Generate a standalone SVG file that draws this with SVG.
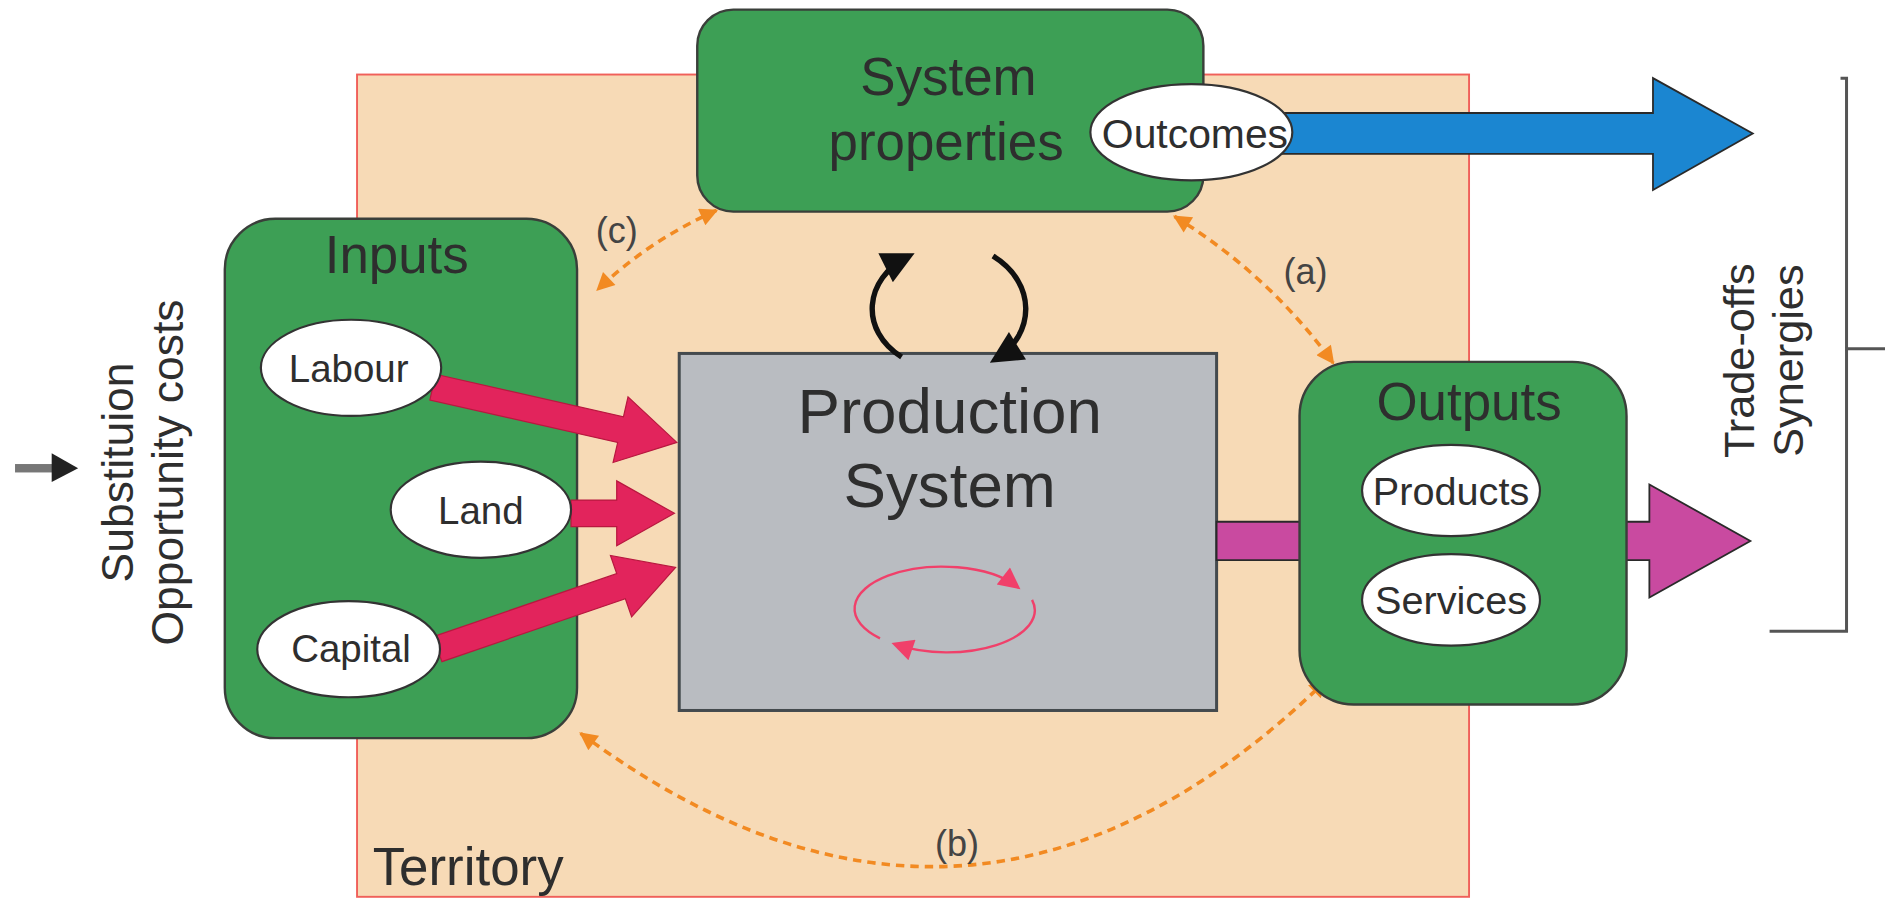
<svg xmlns="http://www.w3.org/2000/svg" width="1885" height="899" viewBox="0 0 1885 899">
<defs>
<style>
.box{fill:#3d9f55;stroke:#3a3f3a;stroke-width:2}
.oval{fill:#ffffff;stroke:#333333;stroke-width:1.8}
.t{font-family:"Liberation Sans",Arial,sans-serif;fill:#2e2e2e;text-anchor:middle}
.orange{fill:none;stroke:#f28a22;stroke-width:3;stroke-dasharray:7 5;marker-start:url(#oa);marker-end:url(#oa)}
.blk{fill:none;stroke:#111111;stroke-width:4.5;marker-end:url(#ba)}
.redloop{fill:none;stroke:#f0406a;stroke-width:2;marker-end:url(#ra)}
.red{fill:#e2245c;stroke:#b8183f;stroke-width:1}
</style>
<marker id="oa" viewBox="0 0 10 10" refX="9" refY="5" markerWidth="6" markerHeight="5" orient="auto-start-reverse" markerUnits="strokeWidth">
<path d="M0,0 L10,5 L0,10 Z" fill="#f28a22"/>
</marker>
<marker id="ba" viewBox="0 0 10 10" refX="8" refY="5" markerWidth="6.5" markerHeight="6" orient="auto" markerUnits="strokeWidth">
<path d="M0,0 L10,5 L0,10 Z" fill="#111111"/>
</marker>
<marker id="ra" viewBox="0 0 10 10" refX="8" refY="5" markerWidth="11" markerHeight="9" orient="auto" markerUnits="strokeWidth">
<path d="M0,0 L10,5 L0,10 Z" fill="#f0406a"/>
</marker>
</defs>
<rect x="0" y="0" width="1885" height="899" fill="#ffffff"/>
<g transform="scale(1.20217)">
<g id="territory">
<rect x="297" y="62" width="925" height="684" fill="#f7dab6" stroke="#f0605a" stroke-width="1.6"/>
<text class="t" x="310" y="736" font-size="44" style="text-anchor:start">Territory</text>
</g>
<g id="inputs">
<rect class="box" x="187" y="182" width="293" height="432" rx="42" ry="42"/>
<text class="t" x="330" y="227" font-size="44">Inputs</text>
</g>
<g id="system-properties">
<rect class="box" x="580" y="8" width="421" height="168" rx="30" ry="30"/>
<text class="t" x="789" y="79" font-size="44">System</text>
<text class="t" x="787" y="133" font-size="44">properties</text>
</g>
<g id="production-system">
<rect x="565" y="294" width="447" height="297" fill="#b9bcc1" stroke="#444a4e" stroke-width="2.5"/>
<text class="t" x="790" y="360" font-size="53">Production</text>
<text class="t" x="790" y="422" font-size="53">System</text>
<path class="redloop" d="M732,531 A73,35 0 1 1 846,488"/>
<path class="redloop" d="M858.5,499 A73,35 0 0 1 745,536"/>
</g>
<g id="connectors">
<polygon points="1012,434 1372,434 1372,403 1456,450 1372,497 1372,466 1012,466" fill="#c94aa0" stroke="#2a2a2a" stroke-width="1.5"/>
<polygon points="1060,94 1375,94 1375,65 1458,111 1375,158 1375,128 1060,128" fill="#1b86d1" stroke="#2a2a2a" stroke-width="1.5"/>
<polygon class="red" points="362.4,311.3 518.6,346.7 522.4,330.1 563,368 510,384.7 513.8,368.1 357.6,332.7"/>
<polygon class="red" points="475,416 513,416 513,400 561,427 513,454 513,438 475,438"/>
<polygon class="red" points="360.4,529.6 513,477.2 507.8,462 562,472 525.4,513.1 520.2,498 367.6,550.4"/>
<path class="blk" d="M750,297 C715,275 718,232 756,213"/>
<path class="blk" d="M826,213 C862,235 862,278 828,299"/>
<path class="orange" d="M596,175 Q540,200 497,241"/>
<path class="orange" d="M977,180 Q1055,228 1109,302"/>
<path class="orange" d="M483,610 Q809,852 1103,566"/>
<text class="t" x="513" y="202" font-size="30" style="fill:#444">(c)</text>
<text class="t" x="1086" y="236" font-size="30" style="fill:#444">(a)</text>
<text class="t" x="796" y="712" font-size="30" style="fill:#444">(b)</text>
</g>
<g id="outputs">
<rect class="box" x="1081" y="301" width="272" height="285" rx="45" ry="45"/>
<text class="t" x="1222" y="349" font-size="44">Outputs</text>
</g>
<g id="labour">
<ellipse class="oval" cx="292" cy="306" rx="75" ry="40"/>
<text class="t" x="290" y="318" font-size="32">Labour</text>
</g>
<g id="land">
<ellipse class="oval" cx="400" cy="424" rx="75" ry="40"/>
<text class="t" x="400" y="436" font-size="32">Land</text>
</g>
<g id="capital">
<ellipse class="oval" cx="290" cy="540" rx="76" ry="40"/>
<text class="t" x="292" y="551" font-size="32">Capital</text>
</g>
<g id="outcomes">
<ellipse class="oval" cx="991" cy="110" rx="84" ry="40"/>
<text class="t" x="994" y="123" font-size="34">Outcomes</text>
</g>
<g id="products">
<ellipse class="oval" cx="1207" cy="408" rx="74" ry="38"/>
<text class="t" x="1207" y="420" font-size="33">Products</text>
</g>
<g id="services">
<ellipse class="oval" cx="1207" cy="499" rx="74" ry="38"/>
<text class="t" x="1207" y="511" font-size="33">Services</text>
</g>
<g id="left-labels">
<rect x="12.5" y="386" width="31" height="7" fill="#777777"/>
<polygon points="43,377 65,389.5 43,401" fill="#222222"/>
<text class="t" font-size="37" transform="translate(111,393) rotate(-90)">Substituion</text>
<text class="t" font-size="37" transform="translate(152,393) rotate(-90)">Opportunity costs</text>
</g>
<g id="right-labels">
<path d="M1531,65 L1536,65 L1536,525 L1472,525 M1536,290 L1570,290" fill="none" stroke="#555555" stroke-width="2.5"/>
<text class="t" font-size="36" transform="translate(1459,300) rotate(-90)">Trade-offs</text>
<text class="t" font-size="36" transform="translate(1500,300) rotate(-90)">Synergies</text>
</g>
</g>
</svg>
